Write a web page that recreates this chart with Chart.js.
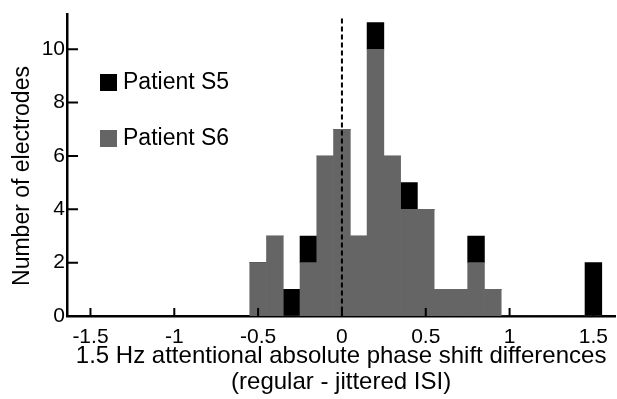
<!DOCTYPE html>
<html>
<head>
<meta charset="utf-8">
<script src="https://cdn.jsdelivr.net/npm/chart.js@4/dist/chart.umd.min.js"></script>
<style>
  html, body { margin: 0; padding: 0; background: #fff; }
  #wrap { width: 617px; height: 399px; }
</style>
</head>
<body>
<div id="wrap"><canvas id="chart1"></canvas></div>
<script>
// Data
// ========================================================================
var bins = [-0.5, -0.4, -0.3, -0.2, -0.1, 0, 0.1, 0.2, 0.3, 0.4, 0.5, 0.6, 0.7,
            0.8, 0.9, 1.0, 1.1, 1.2, 1.3, 1.4, 1.5];
var patientS6 = [2, 3, 0, 2, 6, 7, 3, 10, 6, 4, 4, 1, 1, 2, 1, 0, 0, 0, 0, 0, 0];
var patientS5 = [0, 0, 1, 1, 0, 0, 0, 1, 0, 1, 0, 0, 0, 1, 0, 0, 0, 0, 0, 0, 2];
var xTicks = [-1.5, -1, -0.5, 0, 0.5, 1, 1.5];
var yTicks = [0, 2, 4, 6, 8, 10];

var FONT = "'Liberation Sans', Arial, sans-serif";
var GRAY = '#656565';
var BLACK = '#000000';

function pts(vals) {
  return bins.map(function (b, i) { return { x: b, y: vals[i] }; });
}

// Inside ticks, dashed zero line, y title and legend
// ========================================================================
var decor = {
  id: 'decor',
  afterDatasetsDraw: function (chart) {
    var ctx = chart.ctx;
    var xs = chart.scales.x, ys = chart.scales.y;
    var a = chart.chartArea;
    ctx.save();

    // dashed line at 0
    ctx.strokeStyle = '#000';
    ctx.lineWidth = 2;
    ctx.setLineDash([5, 3]);
    ctx.beginPath();
    var x0 = xs.getPixelForValue(0);
    ctx.moveTo(x0, ys.getPixelForValue(11.15));
    ctx.lineTo(x0, a.bottom);
    ctx.stroke();
    ctx.setLineDash([]);

    // ticks pointing in
    ctx.lineWidth = 2;
    ctx.beginPath();
    xTicks.forEach(function (v) {
      var px = xs.getPixelForValue(v);
      ctx.moveTo(px, a.bottom);
      ctx.lineTo(px, a.bottom - 8);
    });
    yTicks.forEach(function (v) {
      var py = ys.getPixelForValue(v);
      ctx.moveTo(a.left, py);
      ctx.lineTo(a.left + 11, py);
    });
    ctx.stroke();

    // y title
    ctx.fillStyle = '#000';
    ctx.font = '23px ' + FONT;
    ctx.textAlign = 'center';
    ctx.textBaseline = 'middle';
    ctx.translate(23, 176);
    ctx.rotate(-Math.PI / 2);
    ctx.fillText('Number of electrodes', 0, 0);
    ctx.setTransform(1, 0, 0, 1, 0, 0);

    // legend
    var items = [['Patient S5', BLACK, 82], ['Patient S6', GRAY, 138]];
    ctx.font = '23px ' + FONT;
    ctx.textAlign = 'left';
    items.forEach(function (it) {
      ctx.fillStyle = it[1];
      ctx.fillRect(100, it[2] - 8, 17, 17);
      ctx.fillStyle = '#000';
      ctx.fillText(it[0], 123, it[2] + 1);
    });
    ctx.restore();
  }
};

// Chart
// ========================================================================
var chart1El = document.getElementById('chart1');
new Chart(chart1El, {
  type: 'bar',
  data: {
    datasets: [{
      label: 'Patient S6',
      data: pts(patientS6),
      backgroundColor: GRAY,
      borderWidth: 0,
      barPercentage: 1,
      categoryPercentage: 1
    }, {
      label: 'Patient S5',
      data: pts(patientS5),
      backgroundColor: BLACK,
      borderWidth: 0,
      barPercentage: 1,
      categoryPercentage: 1
    }]
  },
  options: {
    responsive: true,
    maintainAspectRatio: false,
    animation: false,
    layout: { padding: { top: 13, right: 0, left: 0, bottom: 0 } },
    plugins: {
      legend: { display: false },
      tooltip: { enabled: false }
    },
    scales: {
      x: {
        type: 'linear',
        stacked: true,
        min: -1.64,
        max: 1.63,
        offset: false,
        grid: { display: false, drawTicks: false },
        border: { display: true, color: '#000', width: 2.5 },
        afterBuildTicks: function (s) { s.ticks = xTicks.map(function (v) { return { value: v }; }); },
        afterFit: function (s) { s.height = 83; },
        ticks: {
          color: '#000',
          font: { family: FONT, size: 21 },
          padding: 9,
          maxRotation: 0,
          autoSkip: false,
          callback: function (v) { return String(v); }
        },
        title: {
          display: true,
          text: ['1.5 Hz attentional absolute phase shift differences', '(regular - jittered ISI)'],
          color: '#000',
          font: { family: FONT, size: 24, lineHeight: 1.08 },
          padding: { top: 0, bottom: 4 }
        }
      },
      y: {
        stacked: true,
        min: 0,
        max: 11.3,
        grid: { display: false, drawTicks: false },
        border: { display: true, color: '#000', width: 2.5 },
        afterBuildTicks: function (s) { s.ticks = yTicks.map(function (v) { return { value: v }; }); },
        afterFit: function (s) { s.width = 67; },
        ticks: {
          color: '#000',
          font: { family: FONT, size: 21 },
          padding: 2,
          callback: function (v) { return String(v); }
        }
      }
    }
  },
  plugins: [decor]
});
</script>
</body>
</html>
